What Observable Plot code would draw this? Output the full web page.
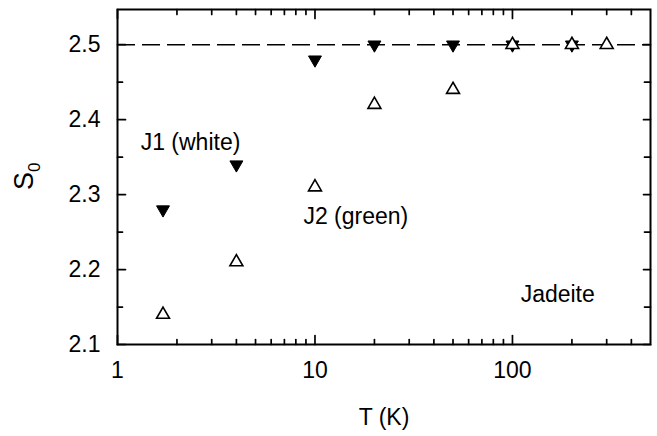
<!DOCTYPE html>
<html><head><meta charset="utf-8">
<script src="https://cdn.jsdelivr.net/npm/d3@7"></script>
<script src="https://cdn.jsdelivr.net/npm/@observablehq/plot@0.6"></script>
<style>body{margin:0;background:#fff} svg{display:block}</style>
</head><body><div id="chart"></div>
<script>
// J1 (white) – filled down triangles
const tempJ1 = [1.7, 4, 10, 20, 50, 100, 200];
const s0J1   = [2.28, 2.34, 2.48, 2.50, 2.50, 2.50, 2.50];
// J2 (green) – open up triangles
const tempJ2 = [1.7, 4, 10, 20, 50, 100, 200, 300];
const s0J2   = [2.14, 2.21, 2.31, 2.42, 2.44, 2.50, 2.50, 2.50];
const limitS0 = 2.5;

const xMajor = [1, 10, 100];
const xTickLabels = ["1", "10", "100"];
const xMinor = [2, 3, 4, 5, 6, 7, 8, 9, 20, 30, 40, 50, 60, 70, 80, 90, 200, 300, 400];
const yMajor = [2.1, 2.2, 2.3, 2.4, 2.5];
const yTickLabels = ["2.1", "2.2", "2.3", "2.4", "2.5"];
const yMinor = [2.15, 2.25, 2.35, 2.45];

const j1 = tempJ1.map((t, i) => ({t, s: s0J1[i]}));
const j2 = tempJ2.map((t, i) => ({t, s: s0J2[i]}));
const xLab = xMajor.map((v, i) => ({v, label: xTickLabels[i]}));
const yLab = yMajor.map((v, i) => ({v, label: yTickLabels[i]}));

const downTriangle = {
  draw(context, size) {
    const y = Math.sqrt(size / (3 * Math.sqrt(3)));
    context.moveTo(0, 2 * y);
    context.lineTo(Math.sqrt(3) * y, -y);
    context.lineTo(-Math.sqrt(3) * y, -y);
    context.closePath();
  }
};
const tickShape = {
  draw(context, l) {
    context.moveTo(0, 0);
    context.lineTo(0, -l);
  }
};

const FONT = "'Liberation Sans', Arial, Helvetica, sans-serif";

function ticksX(values, side, len) {
  return Plot.vector(values, {x: d => d, frameAnchor: side, length: len, rotate: side === "bottom" ? 0 : 180,
    anchor: "start", shape: tickShape, stroke: "black", strokeWidth: 1.7});
}
function ticksY(values, side, len) {
  return Plot.vector(values, {y: d => d, frameAnchor: side, length: len, rotate: side === "left" ? 90 : 270,
    anchor: "start", shape: tickShape, stroke: "black", strokeWidth: 1.7});
}

const plot = Plot.plot({
  width: 657,
  height: 436,
  marginLeft: 117,
  marginRight: 7,
  marginTop: 9,
  marginBottom: 92,
  style: {fontFamily: FONT, fontSize: "23px", background: "white", color: "black"},
  x: {type: "log", domain: [1, 500], axis: null},
  y: {domain: [2.1, 2.547], axis: null},
  marks: [
    Plot.ruleY([limitS0], {strokeDasharray: "18,7", strokeWidth: 1.5}),
    Plot.text(xLab, {x: "v", text: "label", frameAnchor: "bottom", lineAnchor: "top", dy: 17, fontSize: 23}),
    Plot.text(yLab, {y: "v", text: "label", frameAnchor: "left", textAnchor: "end", dx: -17, fontSize: 23}),
    ticksX(xMajor, "bottom", 9),
    ticksX(xMinor, "bottom", 5),
    ticksX(xMajor, "top", 9),
    ticksX(xMinor, "top", 5),
    ticksY(yMajor, "left", 8),
    ticksY(yMinor, "left", 5),
    ticksY(yMajor, "right", 7),
    ticksY(yMinor, "right", 6),
    Plot.frame({strokeWidth: 2}),
    Plot.dot(j1, {x: "t", y: "s", symbol: downTriangle, r: 4.8, fill: "black", stroke: "black", strokeWidth: 1}),
    Plot.dot(j2, {x: "t", y: "s", symbol: "triangle", r: 4.8, fill: "white", stroke: "black", strokeWidth: 1.6}),
    Plot.text(["J1 (white)"], {x: 1.31, y: 2.369, textAnchor: "start", lineAnchor: "middle", fontSize: 23}),
    Plot.text(["J2 (green)"], {x: 8.74, y: 2.271, textAnchor: "start", lineAnchor: "middle", fontSize: 23}),
    Plot.text(["Jadeite"], {x: 110, y: 2.167, textAnchor: "start", lineAnchor: "middle", fontSize: 23})
  ]
});

const svg = d3.select(plot);
svg.append("text")
  .attr("x", 384).attr("y", 425)
  .attr("text-anchor", "middle")
  .attr("font-family", FONT).attr("font-size", 23).attr("fill", "black")
  .text("T (K)");
const yl = svg.append("text")
  .attr("transform", "translate(33,190) rotate(-90)")
  .attr("text-anchor", "start")
  .attr("font-family", FONT).attr("font-size", 27).attr("fill", "black");
yl.append("tspan").text("S");
yl.append("tspan").attr("font-size", 17).attr("dy", 7).text("0");

document.getElementById("chart").appendChild(plot);
</script>
</body></html>
